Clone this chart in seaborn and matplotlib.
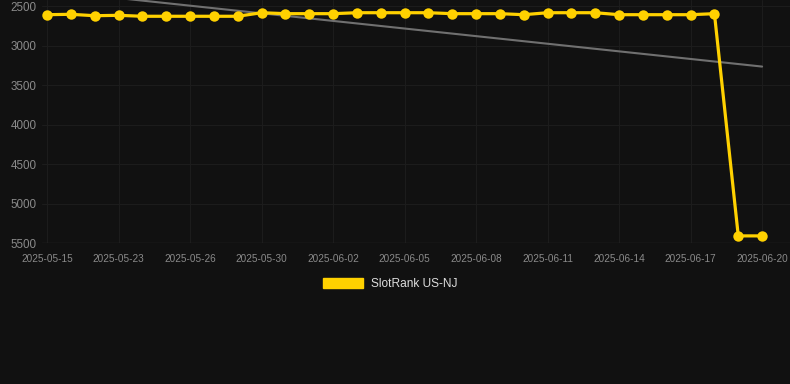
import matplotlib
matplotlib.use("Agg")
import matplotlib.pyplot as plt
from matplotlib.patches import Patch
import seaborn as sns
import numpy as np
import pandas as pd

dates = ["2025-05-15", "2025-05-17", "2025-05-20", "2025-05-23", "2025-05-24", "2025-05-25",
         "2025-05-26", "2025-05-27", "2025-05-29", "2025-05-30", "2025-05-31", "2025-06-01",
         "2025-06-02", "2025-06-03", "2025-06-04", "2025-06-05", "2025-06-06", "2025-06-07",
         "2025-06-08", "2025-06-09", "2025-06-10", "2025-06-11", "2025-06-12", "2025-06-13",
         "2025-06-14", "2025-06-15", "2025-06-16", "2025-06-17", "2025-06-18", "2025-06-19",
         "2025-06-20"]
ranks = [2610, 2605, 2623, 2618, 2630, 2630, 2630, 2630, 2630, 2585, 2597, 2597,
         2597, 2585, 2585, 2585, 2585, 2597, 2597, 2597, 2610, 2585, 2585, 2585,
         2610, 2610, 2610, 2610, 2597, 5410, 5410]
series_name = "SlotRank US-NJ"
yticks = [2500, 3000, 3500, 4000, 4500, 5000, 5500]

bg = "#111111"
yellow = "#FFD100"

sns.set_theme(style="dark")
plt.rcParams['font.family'] = ['Liberation Sans', 'DejaVu Sans']

df = pd.DataFrame({"idx": np.arange(len(dates)), "rank": ranks, "date": dates})

fig = plt.figure(figsize=(7.9, 3.84), dpi=100, facecolor=bg)
ax = fig.add_axes([42/790, 1 - 243/384, 1 - 42/790, 243/384])
ax.set_facecolor(bg)

sns.regplot(data=df, x="idx", y="rank", scatter=False, ci=None, truncate=True, ax=ax,
            line_kws=dict(color="#707070", lw=1.5, zorder=2))
sns.lineplot(data=df, x="idx", y="rank", ax=ax, color=yellow, lw=2.3, marker="o",
             markersize=7.5, markeredgewidth=0, zorder=3)

ax.set_ylim(5500, 2424)
ax.set_xlim(-0.21, 31.17)
ax.set_yticks(yticks)
ax.set_yticklabels([str(v) for v in yticks])
tick_idx = list(range(0, len(dates), 3))
ax.set_xticks(tick_idx)
ax.set_xticklabels([dates[i] for i in tick_idx])
ax.tick_params(axis="y", colors="#8a8a8a", labelsize=8.4, length=0, pad=4)
ax.tick_params(axis="x", colors="#8a8a8a", labelsize=7.2, length=0, pad=8)
ax.grid(True, color="#1c1c1c", lw=0.8)
ax.set_xlabel("")
ax.set_ylabel("")
for s in ax.spines.values():
    s.set_visible(False)
ax.axhline(5500, color="#2a2a2a", lw=1, zorder=1)

handle = Patch(facecolor=yellow, edgecolor=yellow, label=series_name)
fig.legend(handles=[handle], loc="center", bbox_to_anchor=(390/790, 1 - 284/384),
           frameon=False, fontsize=8.6, labelcolor="#dddddd", handlelength=3.4,
           handleheight=1.0, handletextpad=0.6)

fig.savefig("out.png", dpi=100, facecolor=bg)
